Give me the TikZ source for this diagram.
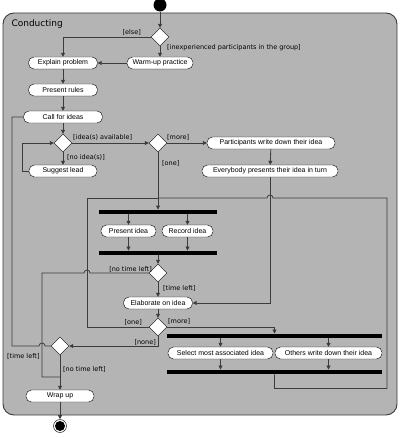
\documentclass[tikz,border=0pt]{standalone}
\usepackage{fontspec}
\setmainfont{Liberation Sans}
\newfontfamily\guardfont{DejaVu Sans}
\usepackage{tikz}
\usetikzlibrary{positioning,arrows.meta,shapes.geometric,calc}
\definecolor{panelgray}{RGB}{180,180,180}
\definecolor{edgegray}{RGB}{60,60,60}

\tikzset{
  activity/.style={draw=black, fill=white, rounded corners=5.5pt, minimum height=12pt,
    minimum width=#1, inner xsep=3pt, inner ysep=0pt, font=\fontsize{7}{8}\selectfont},
  activity/.default=68pt,
  choice/.style={diamond, draw=black, fill=white, aspect=1, minimum size=18pt, inner sep=0pt},
  syncbar/.style={fill=black, minimum height=4.5pt, minimum width=#1, inner sep=0pt},
  wire/.style={draw=edgegray, line width=0.8pt},
  flow/.style={wire, -{Triangle[length=4pt,width=4pt]}},
  guard/.style={font=\guardfont\fontsize{6.5}{7}\selectfont, inner sep=1pt},
}

\begin{document}
\begin{tikzpicture}[x=1pt, y=-1pt]
  \useasboundingbox (0,0) rectangle (400,433);

  % the activity frame
  \draw[fill=panelgray, draw=edgegray, line width=0.9pt, rounded corners=11pt] (3,13) rectangle (397,415);
  \node[font=\guardfont\fontsize{9}{10}\selectfont, anchor=west] (title) at (8,24) {Conducting};

  % nodes
  \node[circle, fill=black, minimum size=13pt, inner sep=0pt] (start) at (160,5) {};
  \node[choice] (d1) at (160,37) {};
  \node[activity=66pt] (warm) at (160,63) {Warm-up practice};
  \node[activity=69pt] (explain) at (63,63) {Explain problem};
  \node[activity=69pt] (rules) at (63,90) {Present rules};
  \node[activity=79pt] (call) at (63,117) {Call for ideas};
  \node[choice] (d2) at (63,143) {};
  \node[activity] (suggest) at (63,171) {Suggest lead};
  \node[choice] (d3) at (158,143) {};
  \node[activity=128pt] (write) at (271,143) {Participants write down their idea};
  \node[activity=136pt] (everybody) at (270,171) {Everybody presents their idea in turn};

  \node[syncbar=118pt] (bar1) at (158,212) {};
  \node[activity=55pt] (present) at (128.5,231) {Present idea};
  \node[activity=51pt] (record) at (187.5,231) {Record idea};
  \node[syncbar=118pt] (bar2) at (158,253) {};
  \node[choice] (dtime1) at (158,273) {};
  \node[activity=69pt] (elaborate) at (158,303) {Elaborate on idea};
  \node[choice] (dcount) at (158,327) {};

  \node[syncbar=215pt] (bar3) at (274.5,336) {};
  \node[activity=105pt] (select) at (220.5,353) {Select most associated idea};
  \node[activity=107pt] (others) at (328.5,353) {Others write down their idea};
  \node[syncbar=215pt] (bar4) at (274.5,372) {};

  \node[choice] (dtime2) at (60,346) {};
  \node[activity] (wrap) at (60,396) {Wrap up};
  \node[circle, draw=edgegray, fill=white, line width=0.6pt, minimum size=13pt, inner sep=0pt] (finish) at (60,426) {};
  \node[circle, fill=black, minimum size=10pt, inner sep=0pt] (finishDot) at (finish) {};

  % junctions
  \coordinate (merge1) at (158,198);
  \coordinate (merge2) at (60,377);

  % connectors
  \draw[flow] (start) -- (d1);
  \draw[flow] (d1.west) -| (explain.north);
  \draw[flow] (d1.south) -- (warm.north);
  \draw[flow] (warm.west) -- (explain.east);
  \draw[flow] (explain) -- (rules);
  \draw[flow] (rules) -- (call);
  \draw[flow] (call) -- (d2);
  \draw[flow] (d2.east) -- (d3.west);
  \draw[flow] (d2.south) -- (suggest.north);
  \draw[flow] (suggest.west) -- ++(-6,0) |- (d2.west);
  \draw[flow] (d3.east) -- (write.west);
  \draw[flow] (write) -- (everybody);
  \draw[flow] (d3.south) -- (bar1.north);
  \draw[flow] (everybody.south) |- (elaborate.east);

  \draw[flow] (present |- bar1.south) -- (present);
  \draw[flow] (record |- bar1.south) -- (record);
  \draw[flow] (present) -- (present |- bar2.north);
  \draw[flow] (record) -- (record |- bar2.north);
  \draw[flow] (bar2.south) -- (dtime1.north);
  \draw[flow] (dtime1.south) -- (elaborate.north);
  \draw[wire] (dtime1.west) -- (90,273) arc[start angle=0, end angle=180, radius=3pt]
    -- (42,273) |- (merge2);
  \draw[flow] (elaborate) -- (dcount);

  \draw[flow] (dcount.east) -| (bar3.north);
  \draw[wire] (dcount.west) -| (87,198) -- (merge1);
  \draw[flow] (dcount.south) |- (dtime2.east);
  \draw[flow] (select |- bar3.south) -- (select);
  \draw[flow] (others |- bar3.south) -- (others);
  \draw[flow] (select) -- (select |- bar4.north);
  \draw[flow] (others) -- (others |- bar4.north);
  \draw[wire] (bar4.south) -- ++(0,14) -| (387,198) -- (273,198)
    arc[start angle=0, end angle=180, radius=3pt] -- (merge1);

  \draw[wire] (dtime2.west) -- (45,346) arc[start angle=0, end angle=180, radius=3pt]
    -- (12,346) |- (call.west);
  \draw[flow] (dtime2.south) -- (wrap.north);
  \draw[flow] (wrap) -- (finish);

  % guards
  \node[guard, anchor=east] (gElse) at ($(d1)+(-18,-5)$) {[else]};
  \node[guard, anchor=west] (gInexp) at ($(d1)+(6,11)$) {[inexperienced participants in the group]};
  \node[guard, anchor=west] (gAvail) at ($(d2)+(9,-6)$) {[idea(s) available]};
  \node[guard, anchor=west] (gNoIdea) at ($(d2)+(3,14)$) {[no idea(s)]};
  \node[guard, anchor=west] (gMore1) at ($(d3)+(8,-6)$) {[more]};
  \node[guard, anchor=west] (gOne1) at ($(d3)+(3,20)$) {[one]};
  \node[guard, anchor=east] (gNoTime1) at ($(dtime1)+(-5,-4)$) {[no time left]};
  \node[guard, anchor=west] (gTime1) at ($(dtime1)+(4,15)$) {[time left]};
  \node[guard, anchor=east] (gOne2) at ($(dcount)+(-15,-5)$) {[one]};
  \node[guard, anchor=west] (gMore2) at ($(dcount)+(9,-6)$) {[more]};
  \node[guard, anchor=east] (gNone) at ($(dcount)+(-1,15)$) {[none]};
  \node[guard, anchor=west] (gTime2) at ($(dtime2)+(-54,10)$) {[time left]};
  \node[guard, anchor=west] (gNoTime2) at ($(dtime2)+(2,23)$) {[no time left]};
\end{tikzpicture}
\end{document}
